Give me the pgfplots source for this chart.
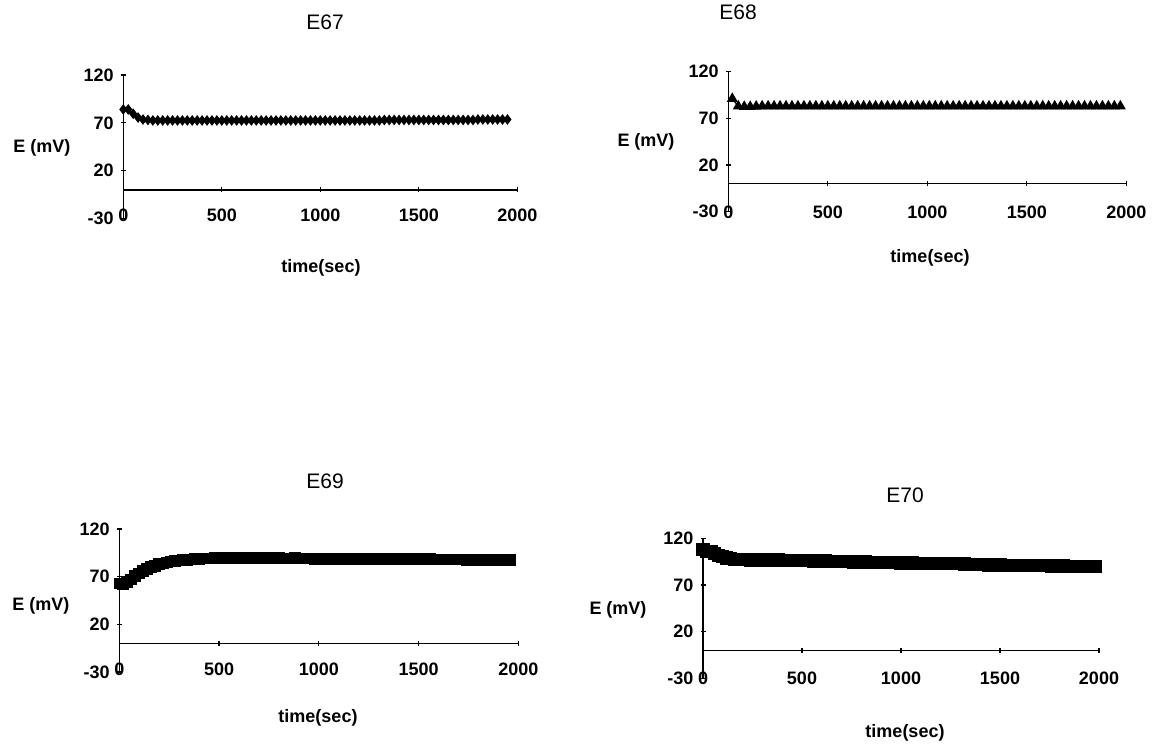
\documentclass[border=0pt]{standalone}
\usepackage{fontspec}
\setmainfont{Liberation Sans}
\usepackage{pgfplots}
\pgfplotsset{compat=1.18}
\pgfplotsset{
 panel/.style={
  scale only axis, anchor=south west,
  xmin=0,xmax=2000,ymin=-30,ymax=120,
  axis y line*=left, axis x line*=middle,
  hide obscured x ticks=false, hide obscured y ticks=false,
  xtick={0,500,1000,1500,2000}, xticklabels={0,500,1000,1500,2000},
  ytick={-30,20,70,120}, yticklabels={-30,20,70,120},
  tick align=center, major tick length=2.5pt,
  tick style={black, line width=0.6pt},
  axis line style={black, line width=0.7pt},
  ticklabel style={font=\fontsize{9}{10}\selectfont\bfseries},
  clip=false,
 }
}
\begin{document}
\begin{tikzpicture}
\useasboundingbox (0,0) rectangle (581pt,-372pt);
% E67
\begin{axis}[panel, at={(61.65pt,-109.25pt)}, width=197pt, height=71.75pt,
  xticklabel style={anchor=center,yshift=-11.5pt}]
\addplot[black, line width=0.6pt, mark=diamond*, mark size=2.2pt] coordinates {
(0,84) (25,84) (50,79.5) (75,75.5) (100,73.5) (125,73) (150,72.5) (175,72.5) (200,72.5) (225,72.5) (250,72.5) (275,72.5) (300,72.5) (325,72.5) (350,72.5) (375,72.5) (400,72.5) (425,72.5) (450,72.5) (475,72.5) (500,72.5) (525,72.5) (550,72.5) (575,72.5) (600,72.5) (625,72.5) (650,72.5) (675,72.5) (700,72.5) (725,72.5) (750,72.5) (775,72.5) (800,72.5) (825,72.5) (850,72.5) (875,72.5) (900,72.5) (925,72.5) (950,72.5) (975,72.5) (1000,72.5) (1025,72.5) (1050,72.5) (1075,72.5) (1100,72.5) (1125,72.5) (1150,72.5) (1175,72.5) (1200,72.5) (1225,72.5) (1250,72.5) (1275,72.5) (1300,72.5) (1325,73) (1350,73) (1375,73) (1400,73) (1425,73) (1450,73) (1475,73) (1500,73) (1525,73) (1550,73) (1575,73) (1600,73) (1625,73) (1650,73) (1675,73) (1700,73) (1725,73) (1750,73) (1775,73) (1800,73.5) (1825,73.5) (1850,73.5) (1875,73.5) (1900,73.5) (1925,73.5) (1950,73.5)
};
\end{axis}
% E68
\begin{axis}[panel, at={(364.15pt,-105.85pt)}, width=199pt, height=70pt,
  xticklabel style={anchor=center,yshift=-12.8pt}]
\addplot[black, line width=0.6pt, mark=triangle*, mark size=2.6pt] coordinates {
(20,91) (50,83) (80,82.5) (110,82.5) (140,82.8) (170,83) (200,83) (230,83) (260,83) (290,83) (320,83) (350,83) (380,83) (410,83) (440,83) (470,83) (500,83) (530,83) (560,83) (590,83) (620,83) (650,83) (680,83) (710,83) (740,83) (770,83) (800,83) (830,83) (860,83) (890,83) (920,83) (950,83) (980,83) (1010,83) (1040,83) (1070,83) (1100,83) (1130,83) (1160,83) (1190,83) (1220,83) (1250,83) (1280,83) (1310,83) (1340,83) (1370,83) (1400,83) (1430,83) (1460,83) (1490,83) (1520,83) (1550,83) (1580,83) (1610,83) (1640,83) (1670,83) (1700,83) (1730,83) (1760,83) (1790,83) (1820,83) (1850,83) (1880,83) (1910,83) (1940,83) (1970,83)
};
\end{axis}
% E69
\begin{axis}[panel, at={(59.65pt,-336pt)}, width=199.5pt, height=71.5pt,
  xticklabel style={anchor=center,yshift=-11.5pt}]
\addplot[black, line width=0.6pt, mark=square*, mark size=2.6pt] coordinates {
(0,63) (20,62) (40,64.5) (60,67) (80,70.5) (100,73.5) (120,76) (140,78) (160,80) (180,81.5) (200,83) (220,84) (240,85) (260,85.8) (280,86.4) (300,86.9) (320,87.4) (340,87.8) (360,88.2) (380,88.5) (400,88.8) (420,89) (440,89.2) (460,88.9) (480,89.3) (500,89.1) (520,89.4) (540,89) (560,89.3) (580,89.2) (600,89.5) (620,89.1) (640,89.4) (660,89.2) (680,89.6) (700,89.3) (720,89.5) (740,89.2) (760,89.4) (780,89.1) (800,89.3) (820,89) (840,89.2) (860,89.1) (880,89.3) (900,89) (920,89.2) (940,88.9) (960,89.1) (980,88.8) (1000,89) (1020,88.8) (1040,89) (1060,88.7) (1080,88.9) (1100,88.6) (1120,88.8) (1140,88.6) (1160,88.9) (1180,88.5) (1200,88.7) (1220,88.5) (1240,88.7) (1260,88.4) (1280,88.6) (1300,88.4) (1320,88.6) (1340,88.3) (1360,88.5) (1380,88.3) (1400,88.5) (1420,88.2) (1440,88.4) (1460,88.2) (1480,88.4) (1500,88.1) (1520,88.3) (1540,88.1) (1560,88.3) (1580,88) (1600,88.2) (1620,88) (1640,88.2) (1660,87.9) (1680,88.1) (1700,87.9) (1720,88.1) (1740,87.8) (1760,88) (1780,87.8) (1800,88) (1820,87.7) (1840,87.9) (1860,87.7) (1880,87.9) (1900,87.6) (1920,87.8) (1940,87.6) (1960,87.7)
};
\end{axis}
% E70
\begin{axis}[panel, at={(351.5pt,-339.15pt)}, width=198pt, height=70pt,
  xticklabel style={anchor=center,yshift=-12.5pt}]
\addplot[black, line width=0.6pt, mark=square*, mark size=3pt] coordinates {
(0,108) (20,106) (40,105.5) (60,104) (80,102) (100,100.5) (120,99) (140,98) (160,97.5) (180,97.2) (200,97) (220,97.2) (240,96.8) (260,97) (280,96.7) (300,96.9) (320,96.6) (340,96.8) (360,96.5) (380,96.7) (400,96.4) (420,96.6) (440,96.3) (460,96.3) (480,96) (500,96.2) (520,95.8) (540,96) (560,95.6) (580,95.8) (600,95.4) (620,95.6) (640,95.3) (660,95.4) (680,95.1) (700,95.1) (720,94.9) (740,95) (760,94.7) (780,94.8) (800,94.5) (820,94.6) (840,94.3) (860,94.4) (880,94.2) (900,94.2) (920,94) (940,94.1) (960,93.8) (980,93.9) (1000,93.6) (1020,93.7) (1040,93.4) (1060,93.5) (1080,93.3) (1100,93.4) (1120,93.2) (1140,93.4) (1160,93.2) (1180,93.3) (1200,93.1) (1220,93.2) (1240,93) (1260,92.9) (1280,92.7) (1300,92.6) (1320,92.4) (1340,92.3) (1360,92.1) (1380,92) (1400,91.7) (1420,91.6) (1440,91.4) (1460,91.5) (1480,91.3) (1500,91.4) (1520,91.2) (1540,91.2) (1560,91) (1580,91.1) (1600,90.9) (1620,90.9) (1640,90.8) (1660,90.8) (1680,90.6) (1700,90.7) (1720,90.5) (1740,90.6) (1760,90.4) (1780,90.4) (1800,90.2) (1820,90.3) (1840,90.1) (1860,90.1) (1880,89.9) (1900,90) (1920,89.8) (1940,89.8) (1960,89.6) (1980,89.6)
};
\end{axis}
% titles
\tikzset{ttl/.style={font=\fontsize{10.5}{12}\selectfont, inner sep=0pt},
         lbl/.style={font=\fontsize{9}{11}\selectfont\bfseries, inner sep=0pt}}
\node[ttl] at (162.5pt,-11pt) {E67};
\node[ttl] at (369pt,-6pt) {E68};
\node[ttl] at (162.5pt,-240.5pt) {E69};
\node[ttl] at (452.5pt,-247.5pt) {E70};
% y labels
\node[lbl] at (21pt,-74pt) {E (mV)};
\node[lbl] at (323pt,-71pt) {E (mV)};
\node[lbl] at (20.5pt,-303pt) {E (mV)};
\node[lbl] at (309pt,-305pt) {E (mV)};
% x labels
\node[lbl] at (160.5pt,-134pt) {time(sec)};
\node[lbl] at (465pt,-129pt) {time(sec)};
\node[lbl] at (159pt,-359pt) {time(sec)};
\node[lbl] at (452.5pt,-366.5pt) {time(sec)};
\end{tikzpicture}
\end{document}
